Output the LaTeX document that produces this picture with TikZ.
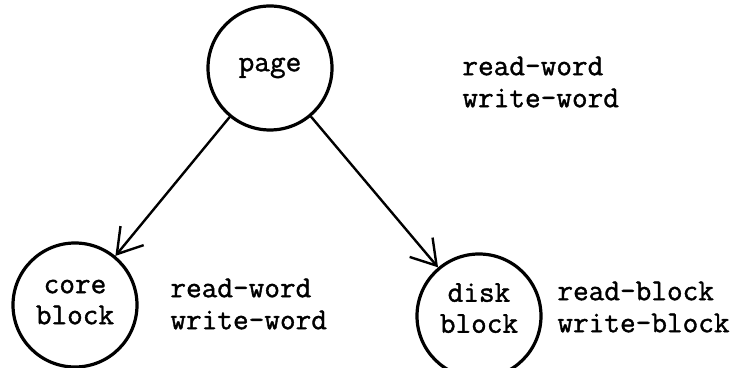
\documentclass[tikz,border=0pt]{standalone}
\usepackage{fontspec}
\setmonofont{Latin Modern Mono}[FakeBold=1.2]
\usetikzlibrary{arrows.meta}
\tikzset{
    store/.style={
        circle,
        draw=black,
        line width=1.6pt,
        minimum size=62pt,
        inner sep=0pt,
        align=center,
        font=\ttfamily\fontsize{15.2}{15.5}\selectfont
    },
    ops/.style={
        anchor=west,
        inner sep=0pt,
        align=left,
        font=\ttfamily\fontsize{15.2}{16}\selectfont
    },
    arrow/.style={
        -{Straight Barb[length=12pt, width=15pt, line width=1.2pt]},
        line width=1.2pt
    }
}
\begin{document}
\begin{tikzpicture}[x=0.5pt, y=-0.5pt]
                \useasboundingbox (0,0) rectangle (734,368);
                \node[store]                  (page) at (270,68)  {page};
                \node[store, text depth=3pt]  (core) at (75,305)  {core\\block};
                \node[store, text depth=8pt]  (disk) at (479,316) {disk\\block};

                \node[ops] (pageops) at (462,82)  {read-word\\write-word};
                \node[ops] (coreops) at (170,304) {read-word\\write-word};
                \node[ops] (diskops) at (557,307) {read-block\\write-block};

                \draw[arrow] (page) -- (core);
                \draw[arrow] (page) -- (disk);
            \end{tikzpicture}
\end{document}
